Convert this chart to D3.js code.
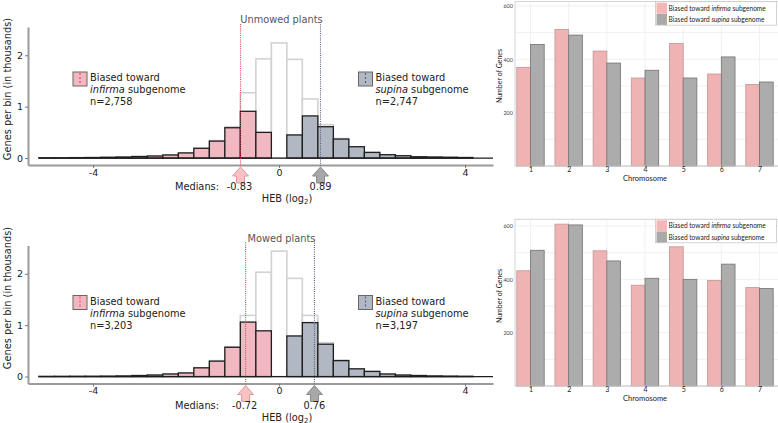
<!DOCTYPE html>
<html><head><meta charset="utf-8">
<script src="https://cdn.jsdelivr.net/npm/d3@7"></script>
<style>body{margin:0;background:#fff} svg{display:block}</style>
</head><body><svg id="c" width="778" height="423"></svg>
<script>
// ---------- data ----------
const binCenters = [-5, -4.667, -4.333, -4, -3.667, -3.333, -3, -2.667, -2.333, -2, -1.667, -1.333, -1, -0.667, -0.333,
  0, 0.333, 0.667, 1, 1.333, 1.667, 2, 2.333, 2.667, 3, 3.333, 3.667, 4];
const binWidth = 0.3333;
// genes per bin (thousands) biased toward a subgenome (pink left of 0, grey right of 0)
const unmowedBiased = [0.005, 0.005, 0.008, 0.01, 0.015, 0.02, 0.03, 0.04, 0.06, 0.10, 0.19, 0.33, 0.59, 0.91, 0.50,
  0, 0.45, 0.82, 0.61, 0.37, 0.22, 0.11, 0.065, 0.045, 0.025, 0.02, 0.015, 0.01];
// all genes per bin (white bars)
const unmowedTotal = [0.005, 0.005, 0.008, 0.01, 0.015, 0.02, 0.03, 0.04, 0.06, 0.10, 0.19, 0.34, 0.61, 1.27, 1.93,
  2.24, 1.92, 1.15, 0.65, 0.38, 0.22, 0.11, 0.065, 0.045, 0.025, 0.02, 0.015, 0.01];
const mowedBiased = [0.003, 0.004, 0.005, 0.006, 0.008, 0.012, 0.02, 0.03, 0.05, 0.07, 0.17, 0.30, 0.57, 1.06, 0.89,
  0, 0.79, 1.05, 0.63, 0.31, 0.15, 0.10, 0.05, 0.03, 0.02, 0.012, 0.008, 0.005];
const mowedTotal = [0.003, 0.004, 0.005, 0.006, 0.008, 0.012, 0.02, 0.03, 0.05, 0.07, 0.17, 0.31, 0.58, 1.19, 2.03,
  2.44, 1.91, 1.19, 0.66, 0.32, 0.15, 0.10, 0.05, 0.03, 0.02, 0.012, 0.008, 0.005];
const histYTicks = [0, 1, 2];
const histXTicks = [-4, 0, 4];

const chromosomes = ["1", "2", "3", "4", "5", "6", "7"];
const unmowedInfirmaChr = [370, 512, 431, 330, 459, 345, 306];
const unmowedSupinaChr  = [456, 491, 386, 359, 330, 409, 315];
const mowedInfirmaChr   = [432, 607, 507, 378, 522, 396, 369];
const mowedSupinaChr    = [509, 604, 469, 404, 400, 457, 366];
const barYTicks = [200, 400, 600];
const barGridTicks = [100, 200, 300, 400, 500, 600];

const panels = [
  {title: "Unmowed plants", biased: unmowedBiased, total: unmowedTotal, medInf: -0.83, medSup: 0.89,
   medInfLabel: "-0.83", medSupLabel: "0.89", nInf: "n=2,758", nSup: "n=2,747",
   infChr: unmowedInfirmaChr, supChr: unmowedSupinaChr, dy: 0, legDy: 0, yLabelC: 89,
   barBase: 166, barTop: 1.5, legTop: 1.7},
  {title: "Mowed plants", biased: mowedBiased, total: mowedTotal, medInf: -0.72, medSup: 0.76,
   medInfLabel: "-0.72", medSupLabel: "0.76", nInf: "n=3,203", nSup: "n=3,197",
   infChr: mowedInfirmaChr, supChr: mowedSupinaChr, dy: 218.5, legDy: 5, yLabelC: 298 - 218.5,
   barBase: 386, barTop: 219.3, legTop: 219.3}
];

// ---------- styles ----------
const FONT = "'DejaVu Sans', Verdana, sans-serif";
const PINK = "#f2b8c1", GREYB = "#b1b8c3";
const svg = d3.select("#c");

const x = d3.scaleLinear().domain([-5.4, 4.6]).range([28, 493]);

panels.forEach(p => {
  const g = svg.append("g").attr("transform", `translate(0,${p.dy})`);
  const y = d3.scaleLinear().domain([-0.135, 2.55]).range([165, 27]);
  const bins = binCenters.map((c, i) => ({c, b: p.biased[i], t: p.total[i]}));

  // white total bars
  g.append("g").selectAll("rect").data(bins).join("rect")
    .attr("x", d => x(d.c - binWidth / 2)).attr("width", d => x(d.c + binWidth / 2) - x(d.c - binWidth / 2))
    .attr("y", d => y(d.t)).attr("height", d => y(0) - y(d.t))
    .attr("fill", "#fff").attr("stroke", "#d2d2d2").attr("stroke-width", 1.6);
  // biased bars
  g.append("g").selectAll("rect").data(bins.filter(d => d.b > 0)).join("rect")
    .attr("x", d => x(d.c - binWidth / 2)).attr("width", d => x(d.c + binWidth / 2) - x(d.c - binWidth / 2))
    .attr("y", d => y(d.b)).attr("height", d => y(0) - y(d.b))
    .attr("fill", d => d.c < 0 ? PINK : GREYB).attr("stroke", "#1e1e1e").attr("stroke-width", 1.3);
  // zero baseline
  g.append("line").attr("x1", x(binCenters[0] - binWidth / 2)).attr("x2", 493)
    .attr("y1", y(0)).attr("y2", y(0)).attr("stroke", "#1e1e1e").attr("stroke-width", 1.2);

  // axes
  const ax = g.append("g").attr("transform", "translate(0,165)")
    .call(d3.axisBottom(x).tickValues(histXTicks).tickFormat(d => String(d)).tickSize(3).tickSizeOuter(0).tickPadding(1));
  const ay = g.append("g").attr("transform", "translate(28,0)")
    .call(d3.axisLeft(y).tickValues(histYTicks).tickFormat(d => String(d)).tickSize(3).tickSizeOuter(0).tickPadding(2));
  [ax, ay].forEach(a => {
    a.select(".domain").attr("stroke", "#9a9a9a").attr("stroke-width", 2);
    a.selectAll(".tick line").attr("stroke", "#777");
    a.selectAll("text").attr("font-family", FONT).attr("font-size", 9.5).attr("fill", "#222");
  });

  // median lines (fine dotted)
  g.append("line").attr("x1", x(p.medInf)).attr("x2", x(p.medInf)).attr("y1", 24).attr("y2", 166)
    .attr("stroke", "#e5415c").attr("stroke-width", 1.1).attr("stroke-dasharray", "1,1.2");
  g.append("line").attr("x1", x(p.medSup)).attr("x2", x(p.medSup)).attr("y1", 22).attr("y2", 166)
    .attr("stroke", "#56607a").attr("stroke-width", 1.1).attr("stroke-dasharray", "1,1.2");

  // title
  g.append("text").attr("x", 281.5).attr("y", 23).attr("text-anchor", "middle")
    .attr("font-family", FONT).attr("font-size", 9.8).attr("fill", "#555").text(p.title);

  // arrows
  const arrow = cx => `M${cx},167 L${cx + 8},176 L${cx + 4},176 L${cx + 4},183 L${cx - 4},183 L${cx - 4},176 L${cx - 8},176 Z`;
  g.append("path").attr("d", arrow(x(p.medInf))).attr("fill", "#f8c2c3").attr("stroke", "#de9a9e").attr("stroke-width", 1);
  g.append("path").attr("d", arrow(x(p.medSup))).attr("fill", "#a8a8a8").attr("stroke", "#8a8a8a").attr("stroke-width", 1);

  // medians text
  const tx = (xx, yy, s, anchor) => g.append("text").attr("x", xx).attr("y", yy).attr("text-anchor", anchor || "middle")
    .attr("font-family", FONT).attr("font-size", 9.8).attr("fill", "#222").text(s);
  tx(219, 190, "Medians:", "end");
  tx(x(p.medInf) - 1, 190, p.medInfLabel);
  tx(x(p.medSup), 190, p.medSupLabel);
  const heb = g.append("text").attr("x", 287).attr("y", 202).attr("text-anchor", "middle")
    .attr("font-family", FONT).attr("font-size", 9.8).attr("fill", "#222");
  heb.append("tspan").text("HEB (log");
  heb.append("tspan").attr("font-size", 7).attr("dy", 2).text("2");
  heb.append("tspan").attr("dy", -2).text(")");

  // y label
  g.append("text").attr("transform", `translate(11,${p.yLabelC}) rotate(-90)`).attr("text-anchor", "middle")
    .attr("font-family", FONT).attr("font-size", 9.8).attr("fill", "#222").text("Genes per bin (in thousands)");

  // legends
  const leg = (lx, fill, dashCol, sub, n) => {
    const ly = 72 + p.legDy;
    g.append("rect").attr("x", lx).attr("y", ly).attr("width", 14).attr("height", 14)
      .attr("fill", fill).attr("stroke", "#666").attr("stroke-width", 1);
    g.append("line").attr("x1", lx + 7).attr("x2", lx + 7).attr("y1", ly + 1).attr("y2", ly + 13)
      .attr("stroke", dashCol).attr("stroke-width", 1.1).attr("stroke-dasharray", "2,2");
    const t = g.append("text").attr("font-family", FONT).attr("font-size", 9.8).attr("fill", "#222");
    t.append("tspan").attr("x", lx + 17).attr("y", ly + 9).text("Biased toward");
    const l2 = t.append("tspan").attr("x", lx + 17).attr("y", ly + 21);
    l2.append("tspan").attr("font-style", "italic").text(sub);
    l2.append("tspan").text(" subgenome");
    t.append("tspan").attr("x", lx + 17).attr("y", ly + 33).text(n);
  };
  leg(73, PINK, "#e5415c", "infirma", p.nInf);
  leg(358.5, GREYB, "#56607a", "supina", p.nSup);

  // ---------- right bar chart ----------
  const bg = svg.append("g");
  const xb = d3.scalePoint().domain(chromosomes).range([530.5, 759.5]);
  const yb = d3.scaleLinear().domain([0, 600]).range([p.barBase, p.barBase - 160]);
  const bw = 13.7;
  // panel background + grid
  bg.append("rect").attr("x", 515).attr("y", p.barTop).attr("width", 270).attr("height", p.barBase - p.barTop)
    .attr("fill", "#fff").attr("stroke", "#d4d4d4").attr("stroke-width", 1);
  bg.append("g").selectAll("line").data(barGridTicks).join("line")
    .attr("x1", 515).attr("x2", 778).attr("y1", d => yb(d)).attr("y2", d => yb(d))
    .attr("stroke", "#ececec").attr("stroke-width", 0.8);
  bg.append("g").selectAll("line").data(chromosomes).join("line")
    .attr("x1", d => xb(d)).attr("x2", d => xb(d)).attr("y1", p.barTop).attr("y2", p.barBase)
    .attr("stroke", "#ececec").attr("stroke-width", 0.8);
  // bars
  bg.append("g").selectAll("rect").data(chromosomes).join("rect")
    .attr("x", d => xb(d) - bw).attr("width", bw)
    .attr("y", (d, i) => yb(p.infChr[i])).attr("height", (d, i) => yb(0) - yb(p.infChr[i]))
    .attr("fill", "#f0b3b3").attr("stroke", "#c39494").attr("stroke-width", 0.8);
  bg.append("g").selectAll("rect").data(chromosomes).join("rect")
    .attr("x", d => xb(d)).attr("width", bw)
    .attr("y", (d, i) => yb(p.supChr[i])).attr("height", (d, i) => yb(0) - yb(p.supChr[i]))
    .attr("fill", "#acacac").attr("stroke", "#727272").attr("stroke-width", 0.8);
  bg.append("line").attr("x1", 515).attr("x2", 778).attr("y1", yb(0)).attr("y2", yb(0))
    .attr("stroke", "#cfcfcf").attr("stroke-width", 1);
  // axes
  const byAx = bg.append("g").attr("transform", "translate(515,0)")
    .call(d3.axisLeft(yb).tickValues(barYTicks).tickSize(0).tickPadding(2));
  byAx.select(".domain").remove();
  byAx.selectAll("text").attr("font-family", "Lato, sans-serif").attr("font-size", 5.5).attr("fill", "#444");
  const bxAx = bg.append("g").attr("transform", `translate(0,${p.barBase})`)
    .call(d3.axisBottom(xb).tickSize(0).tickPadding(1.5));
  bxAx.select(".domain").remove();
  bxAx.selectAll("text").attr("font-family", "Lato, sans-serif").attr("font-size", 7).attr("fill", "#222");
  bg.append("text").attr("x", 645).attr("y", p.barBase + 14.5).attr("text-anchor", "middle")
    .attr("font-family", "Lato, sans-serif").attr("font-size", 7.5).attr("fill", "#222").text("Chromosome");
  bg.append("text").attr("transform", `translate(502,${p.barBase - 90}) rotate(-90)`).attr("text-anchor", "middle")
    .attr("font-family", "Lato, sans-serif").attr("font-size", 7).attr("fill", "#222").text("Number of Genes");
  // legend
  const lg = bg.append("g");
  lg.append("rect").attr("x", 655.5).attr("y", p.legTop).attr("width", 121).attr("height", 23.5)
    .attr("fill", "#fff").attr("stroke", "#c8c8c8").attr("stroke-width", 0.8);
  [["infirma", "#f4b6b6"], ["supina", "#a9a9a9"]].forEach((r, i) => {
    const yy = p.legTop + 1 + i * 11.2;
    lg.append("rect").attr("x", 656.5).attr("y", yy).attr("width", 10.5).attr("height", 11).attr("fill", r[1]);
    const t = lg.append("text").attr("x", 668.5).attr("y", yy + 8).attr("font-family", "Lato, sans-serif")
      .attr("font-size", 6.6).attr("fill", "#222");
    t.append("tspan").text("Biased toward ");
    t.append("tspan").attr("font-style", "italic").text(r[0]);
    t.append("tspan").text(" subgenome");
  });
});
</script></body></html>
